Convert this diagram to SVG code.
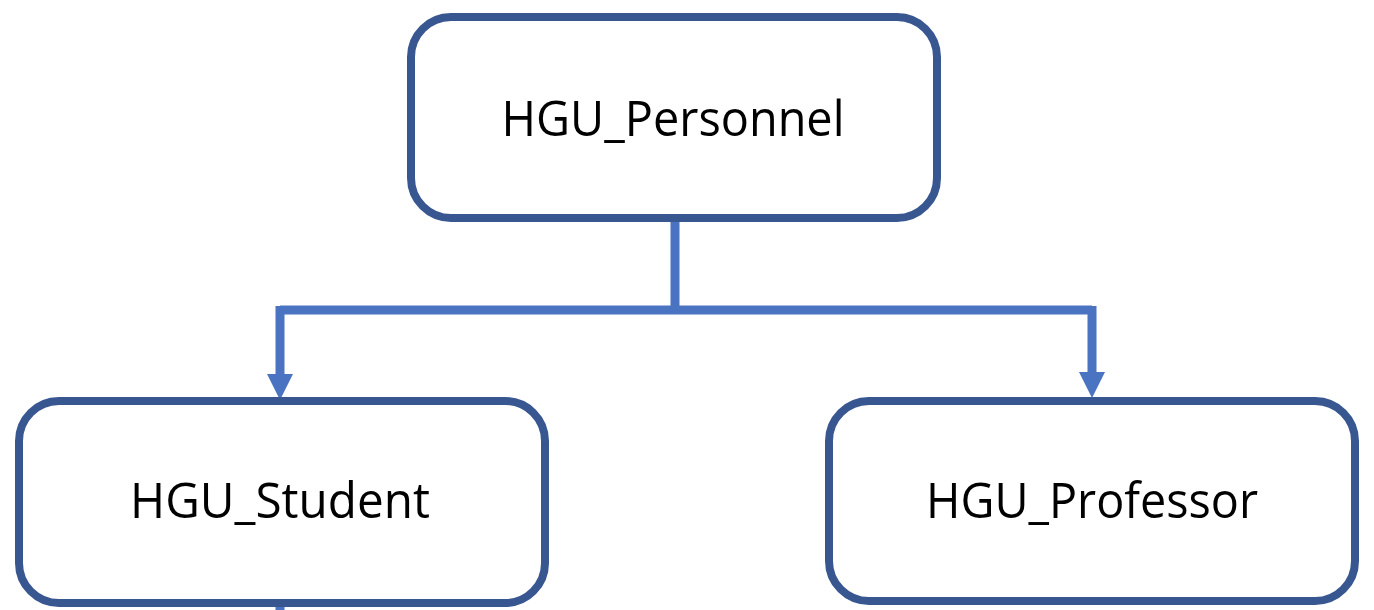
<svg xmlns="http://www.w3.org/2000/svg" width="1374" height="610" viewBox="0 0 1374 610">
<style>
.box{fill:#ffffff;stroke:#385690;stroke-width:8}
.lbl{font-family:"Open Sans","Liberation Sans",sans-serif;font-size:50px;fill:#000000;text-anchor:middle}
.conn{fill:none;stroke:#4a73c2;stroke-width:9}
.head{fill:#4a73c2}
</style>
<rect width="1374" height="610" fill="#ffffff"/>
<g id="connectors">
<path class="conn" d="M675,219 V310 M280,310 H1092 M280,306 V376 M1092,306 V374"/>
<polygon class="head" points="267,374 293,374 280,400"/>
<polygon class="head" points="1079,372 1105,372 1092,398"/>
<path class="conn" d="M280,604 V610"/>
</g>
<g id="HGU_Personnel">
<rect class="box" x="411" y="17" width="526" height="201" rx="40"/>
<text class="lbl" x="673" y="136" textLength="343" lengthAdjust="spacingAndGlyphs">HGU_Personnel</text>
</g>
<g id="HGU_Student">
<rect class="box" x="19" y="401" width="526" height="202" rx="40"/>
<text class="lbl" x="280" y="518" textLength="300" lengthAdjust="spacingAndGlyphs">HGU_Student</text>
</g>
<g id="HGU_Professor">
<rect class="box" x="829" y="401" width="526" height="200" rx="40"/>
<text class="lbl" x="1092" y="518" textLength="332" lengthAdjust="spacingAndGlyphs">HGU_Professor</text>
</g>
</svg>
